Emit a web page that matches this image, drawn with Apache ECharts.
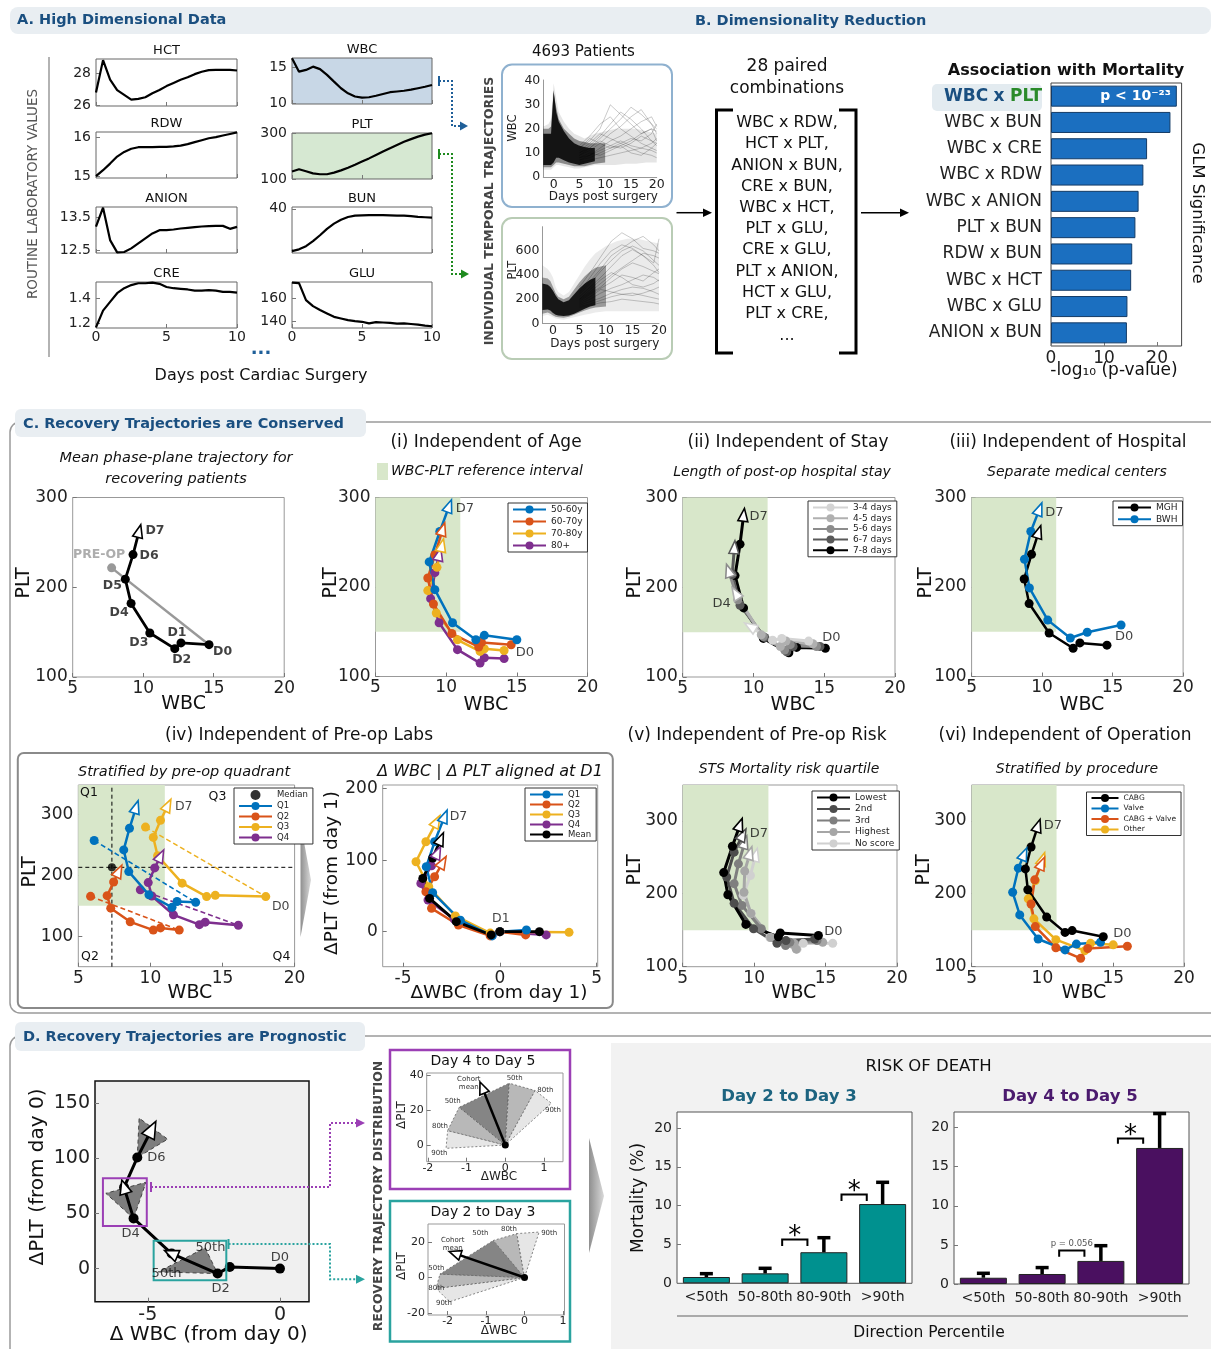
<!DOCTYPE html>
<html>
<head>
<meta charset="utf-8">
<title>Recovery trajectories</title>
<script src="https://cdn.jsdelivr.net/npm/echarts@6.0.0/dist/echarts.min.js"></script>
<style>
html,body{margin:0;padding:0;background:#ffffff;}
#chart{width:1211px;height:1349px;}
</style>
</head>
<body>
<div id="chart"></div>
<script>
// ======================= DATA =======================
// Panel A : mean routine lab values, days post surgery
const aDays = [0,0.5,1,1.5,2,2.5,3,3.5,4,4.5,5,5.5,6,6.5,7,7.5,8,8.5,9,9.5,10];
const hctMean = [26.8,28.83,27.6,26.95,26.65,26.35,26.4,26.5,26.75,26.95,27.2,27.4,27.6,27.75,27.95,28.1,28.2,28.22,28.22,28.22,28.18];
const rdwMean = [15.0,15.15,15.32,15.5,15.62,15.7,15.74,15.74,15.74,15.75,15.75,15.76,15.78,15.82,15.87,15.92,15.97,16.0,16.04,16.08,16.12];
const anionMean = [13.21,13.78,12.8,12.43,12.44,12.55,12.7,12.85,13.0,13.1,13.1,13.12,13.15,13.17,13.19,13.21,13.22,13.23,13.23,13.14,13.2];
const creMean = [1.165,1.30,1.37,1.44,1.48,1.505,1.52,1.52,1.525,1.515,1.49,1.48,1.475,1.47,1.46,1.46,1.465,1.46,1.45,1.45,1.445];
const wbcMean = [16.2,14.35,14.6,15.05,14.7,13.9,12.97,12.05,11.35,10.9,10.74,10.8,11.0,11.25,11.5,11.6,11.7,11.85,12.05,12.25,12.5];
const pltMean = [133,143,134,125,121,121,128,138,150,163,177,191,206,221,236,250,264,276,287,296,302];
const bunMean = [21.4,22.2,23.6,25.8,28.4,31.2,33.5,35.2,36.4,37.0,37.1,37.2,37.2,37.2,37.1,37.0,37.0,36.8,36.5,36.3,36.1];
const gluMean = [173.5,173,158.3,153,149.6,146.7,143.7,142.3,140.9,140,139.4,138,139.1,138.8,138.5,137.8,138,137.5,136.9,136,135.5];
const dayTicks = [0,5,10];
const hctTicks = [26,28], rdwTicks = [15,16], anionTicks = [12.5,13.5], creTicks = [1.2,1.4];
const wbcTicks = [10,15], pltTicks = [100,300], bunTicks = [20,40], gluTicks = [140,160];

// Panel B : individual trajectories (density envelopes + visible stray lines)
const spagDays = [-2,-1,-0.5,0,0.5,1,2,3,4,5,6,7,8,10,12,14,16,18,20];
const midDays  = [-2,-1,-0.5,0,0.5,1,2,3,4,5,6,7,8,10];
const coreDays = [-2,-1,-0.5,0,0.5,1,2,3,4,5,6,7,8];
const tailDays = [5,7,9,11,13,15,17,19,20];
const wbcOuterLo = [3,3,3,4,5,5,4.5,4,3.5,3.5,4,4.5,5,5,5,5.5,5.5,6,6];
const wbcOuterHi = [21,22,24,39,33,27,23,20,18,17,16,17,18,19,20,20,20,19,18];
const wbcMidLo = [4,4,4,5,6,6,5.5,5,4.5,4.5,4.5,5,5.5,6];
const wbcMidHi = [20,20,21,35,29,24,20,18,16,15,14.5,14,14,14];
const wbcCoreLo = [5,5,5,6,8,8,7,6,5.5,5,5.5,6,6.5];
const wbcCoreHi = [18,18,18,36,27,23,19,16,14,13,12.5,12,12];
const wbcTails = [
  [12,15,20,30,26,22,18,20,19],[10,13,17,22,27,24,20,15,14],[9,11,14,18,21,25,28,22,20],
  [8,9,12,15,17,20,23,25,21],[7,8,10,12,14,16,15,18,22],[9,12,15,13,12,14,17,15,13],
  [6,7,8,9,10,11,12,11,10],[11,14,18,16,14,12,10,9,8],[8,10,9,11,13,10,9,12,14],[13,17,22,25,20,17,14,12,11],
  [10,12,16,20,24,29,26,22,18],[7,9,11,13,15,13,12,14,16],[12,16,14,12,13,15,18,20,15]
];
const pltOuterLo = [60,70,60,50,40,35,30,40,50,60,70,80,90,100,100,100,100,100,100];
const pltOuterHi = [480,450,420,380,300,260,230,260,330,400,470,530,580,640,680,700,700,680,660];
const pltMidLo = [80,90,80,65,55,50,45,55,70,90,105,120,130,140];
const pltMidHi = [380,370,350,300,250,220,200,220,280,340,390,430,460,480];
const pltCoreLo = [110,115,105,85,70,65,60,65,80,100,120,140,150];
const pltCoreHi = [330,320,300,270,230,200,175,190,240,290,330,360,380];
const pltTails = [
  [300,420,550,680,750,700,620,600,580],[250,350,450,560,620,680,720,650,600],[220,300,380,470,560,610,560,500,700],
  [200,260,330,400,460,520,580,560,540],[180,240,290,340,400,380,350,420,450],[160,200,250,290,320,360,400,380,350],
  [150,180,210,250,280,300,290,260,240],[140,160,190,220,240,250,230,210,200],[170,220,280,260,240,230,250,280,300],
  [200,280,360,420,380,320,300,330,360],[240,330,430,520,600,640,600,520,480],[190,250,300,380,450,500,470,430,410],
  [130,150,170,180,200,190,180,170,160],[260,380,500,600,650,620,560,480,420]
];
const spagDayTicks = [0,5,10,15,20], spagWbcTicks = [0,10,20,30,40], spagPltTicks = [0,200,400,600];
const pairedCombos = ['WBC x RDW,','HCT x PLT,','ANION x BUN,','CRE x BUN,','WBC x HCT,','PLT x GLU,','CRE x GLU,','PLT x ANION,','HCT x GLU,','PLT x CRE,'];
const glmPairs = ['WBC x PLT','WBC x BUN','WBC x CRE','WBC x RDW','WBC x ANION','PLT x BUN','RDW x BUN','WBC x HCT','WBC x GLU','ANION x BUN'];
const glmSig = [23.7,22.5,18.1,17.4,16.5,15.9,15.3,15.1,14.4,14.3];
const glmTicks = [0,10,20];

// Panel C : phase-plane trajectories [WBC, PLT], D0..D7
const wbcAxisTicks = [5,10,15,20], pltAxisTicks = [100,200,300];
const refWBC = [4.5,11.0], refPLT = [150,450];
const meanTraj = [[14.67,136],[12.68,138],[12.24,131.6],[10.47,149],[9.14,182],[8.73,209],[9.28,236.4],[9.7,262]];
const preOpMean = [7.76,221.6];
const age5060 = [[15.0,141],[12.7,146],[12.1,141],[10.45,160],[9.2,197],[8.8,228],[9.55,262],[10.2,290]];
const age6070 = [[14.6,135.5],[12.5,138],[12.3,133],[10.4,148],[9.1,181],[8.7,210],[9.2,236],[9.75,264]];
const age7080 = [[14.1,129],[12.7,131],[12.4,128],[10.8,141],[9.3,171],[8.7,196],[9.35,222],[9.7,246]];
const age80 = [[14.1,120],[12.7,121],[12.4,115],[10.8,130],[9.5,160],[8.9,187],[9.2,216],[9.5,236]];
const stay78 = [[15.08,132],[13.05,133],[12.5,127],[10.7,143],[9.3,177],[8.7,213],[9.05,248],[9.3,280]];
const stay67 = [[14.7,134],[12.8,134],[12.35,128],[10.8,144],[9.05,180],[8.5,214],[8.65,244]];
const stay56 = [[14.45,134],[12.6,136],[12.2,130],[10.7,145],[8.9,186],[8.25,218]];
const stay45 = [[14.2,137],[12.3,140],[11.9,134],[10.55,147],[8.75,193]];
const stay34 = [[13.9,140],[12.0,143],[11.35,141],[9.8,156]];
const mgh = [[14.6,135],[12.68,137.5],[12.2,131.6],[10.5,148.6],[9.08,181.5],[8.73,209],[9.25,236.5],[9.75,261]];
const bwh = [[15.6,157.5],[13.2,149.5],[12.0,143],[10.4,163],[9.1,199],[8.75,231],[9.2,262],[9.8,286.5]];
const quadQ1 = [[13.14,155.6],[11.85,157],[11.5,147.4],[9.9,168],[8.5,206],[8.15,241.5],[8.55,277],[9.0,311]];
const quadQ2 = [[12.0,110],[10.7,113.6],[10.2,110],[8.6,123.6],[7.25,146],[7.0,166.5],[7.45,189],[7.8,206]];
const quadQ3 = [[18.0,165],[14.5,167],[13.9,165],[12.2,187],[10.5,232],[10.2,262],[10.7,290],[11.2,314]];
const quadQ4 = [[16.1,118],[13.8,123],[13.4,119],[11.6,135],[10.1,166],[9.85,188],[10.3,212],[10.7,231]];
const preQ1 = [6.1,257], preQ2 = [5.85,165.4], preQ3 = [9.66,279], preQ4 = [9.3,176];
const preMedian = [7.33,213];
const quadPltTicks = [100,200,300];
const alignQ1 = [[1.37,2.3],[0,0],[-0.4,-6],[-2.04,16],[-3.47,54.4],[-3.8,90.7],[-3.37,125.6],[-2.86,160.5]];
const alignQ2 = [[1.33,-4.6],[0,0],[-0.5,-6],[-2.14,9.3],[-3.53,32.6],[-3.82,55.8],[-3.37,76.7],[-2.96,96.3]];
const alignQ3 = [[3.57,-1],[0,0],[-0.5,-2],[-2.3,21.9],[-3.67,62.8],[-4.33,97.7],[-3.82,125.6],[-3.27,153.5]];
const alignQ4 = [[2.39,-4.6],[0,0],[-0.4,-5],[-2.35,17.2],[-3.71,44.2],[-4.08,67.4],[-3.53,92],[-3.22,110]];
const alignMean = [[2.04,0],[0,0],[-0.45,-4.6],[-2.25,14],[-3.63,46.5],[-3.98,74.4],[-3.47,103],[-3.06,129]];
const dWbcTicks1 = [-5,0,5], dPltTicks1 = [0,100,200];
const riskLow = [[14.5,142.7],[11.83,146.3],[11.7,141],[9.42,158],[8.16,198.6],[7.87,229],[8.48,265],[9.0,294]];
const risk2nd = [[14.24,138],[12.23,135.8],[11.6,132],[9.96,152],[8.6,187],[8.08,223],[8.6,257],[9.2,280]];
const risk3rd = [[14.4,135.8],[12.5,133.5],[12.2,129],[10.5,152],[9.15,184],[8.6,213.8],[8.9,241],[9.34,270]];
const riskHigh = [[14.8,133.5],[12.8,132],[12.95,124],[11.16,140],[9.77,173],[9.29,202],[9.34,231],[9.7,255]];
const riskNone = [[15.5,132],[13.44,132],[13.0,124],[11.1,140],[9.8,173],[9.23,198],[9.74,225],[10.1,252.7]];
const opCabg = [[14.3,141],[12.1,149.5],[11.6,147],[10.3,168],[8.97,205.5],[8.8,234],[9.2,264],[9.68,292.7]];
const opValve = [[14.1,133.5],[12.4,131],[11.6,123],[9.7,138],[8.4,171],[7.9,202],[8.3,235],[8.7,253.7]];
const opCabgValve = [[16.0,128],[13.2,125],[12.7,111.5],[10.95,126],[9.5,155],[9.2,186],[9.46,219],[9.95,241]];
const opOther = [[15.0,130],[13.4,132],[13.0,122],[10.95,137],[9.4,165.6],[9.0,193],[9.5,218],[10.0,247]];

// Panel D : change from day 0 [dWBC, dPLT]
const dTraj = [[0,0],[-1.9,1.5],[-2.36,-4.5],[-4.1,13.6],[-5.54,45.5],[-5.9,73.6],[-5.4,100.6],[-4.86,125.8]];
const wedgeD6 = [[-5.4,100.6],[-5.33,136.4],[-4.25,117.3]];
const wedgeD4 = [[-5.54,45.5],[-6.59,68.2],[-5.07,78.2]];
const wedgeD2 = [[-2.36,-4.5],[-4.61,-3],[-2.83,18.8]];
const boxDay45 = [[-6.7,38.5],[-5.04,38.5],[-5.04,81.8],[-6.7,81.8]];
const boxDay23 = [[-4.78,-10.6],[-2.03,-10.6],[-2.03,25.2],[-4.78,25.2]];
const dWbcTicks0 = [-5,0], dPltTicks0 = [0,50,100,150];
const insetOrigin = [0,0];
const fan45 = [[-1.53,-1.9],[-1.49,8.2],[-1.19,21.5],[0.1,35.2],[0.77,31],[1.19,23.8]];
const fan23 = [[-1.95,-13.6],[-2.3,-6.1],[-2.2,1.9],[-0.81,20.8],[-0.2,24.6],[0.38,25.5]];
const mean45 = [-0.59,32.4], mean23 = [-1.8,13.4];
const insetXTicks = [-2,-1,0,1], inset45Ticks = [0,20,40], inset23Ticks = [-20,0,20];
const mortCats = ['<50th','50-80th','80-90th','>90th'];
const mort23 = [0.81,1.28,4.0,10.2], err23 = [1.24,1.93,5.87,13.0];
const mort45 = [0.8,1.28,2.95,17.4], err45 = [1.37,2.1,4.9,21.8];
const mortTicks = [0,5,10,15,20];

// ======================= BUILD =======================
const FONT = '"DejaVu Sans", Verdana, Arial, sans-serif';
const BLUE='#0072BD', ORANGE='#D95319', YELLOW='#EDB120', PURPLE='#7E2F8E', SHADE='#d8e7ca';
const grids=[], xAxes=[], yAxes=[], series=[], graphics=[], legends=[];
const fnt = (size,o={}) => (o.italic?'italic ':'') + (o.bold?'bold ':'') + size + 'px ' + FONT;
const fmt = v => String(Math.round(v*1000)/1000);

function vAxis(gi, r, ticks, o={}) {
  return {type:'value', gridIndex:gi, min:r[0], max:r[1],
    axisLine:{show:!!o.line, onZero:false, lineStyle:{color:o.lineColor||'#999', width:1}},
    axisTick:{show:o.tick!==false && ticks.length>0, inside:true, length:4, customValues:ticks, lineStyle:{color:'#777', width:1}},
    axisLabel:{show:o.label!==false, customValues:ticks, fontSize:o.fs||14, fontFamily:FONT, color:o.color||'#222', margin:o.margin!=null?o.margin:4, hideOverlap:false, formatter:fmt},
    splitLine:{show:false}, splitArea:{show:false}};
}
function addGrid(box, xr, yr, o={}) {
  const gi = grids.length;
  grids.push({left:box[0], top:box[1], width:box[2], height:box[3], show:o.show!==false, borderColor:o.border||'#8c8c8c',
    borderWidth:o.bw!=null?o.bw:1, backgroundColor:o.bg||'rgba(0,0,0,0)', containLabel:false, outerBoundsMode:'none'});
  xAxes.push(vAxis(gi, xr, o.xt||[], Object.assign({fs:o.fs, margin:o.xm!=null?o.xm:3}, o.xo||{})));
  yAxes.push(vAxis(gi, yr, o.yt||[], Object.assign({fs:o.fs, margin:o.ym!=null?o.ym:5}, o.yo||{})));
  return gi;
}
function lineS(gi, data, color, o={}) {
  series.push({type:'line', xAxisIndex:gi, yAxisIndex:gi, data, symbol:'none', showSymbol:false,
    lineStyle:{color, width:o.lw||2, type:o.dash||'solid'}, itemStyle:{color}, silent:true, animation:false, z:o.z||3});
}
function arrowS(gi, p0, p1, color, o={}) {
  return {type:'custom', xAxisIndex:gi, yAxisIndex:gi, silent:true, animation:false, z:o.az||5,
    data:[[p0[0],p0[1],p1[0],p1[1]]],
    renderItem:(params, api) => {
      const a = api.coord([api.value(0), api.value(1)]), b = api.coord([api.value(2), api.value(3)]);
      let dx=b[0]-a[0], dy=b[1]-a[1]; const L=Math.hypot(dx,dy)||1; dx/=L; dy/=L;
      const len=o.alen||13, w=o.aw||10;
      const tip=[b[0]+dx*len*0.55, b[1]+dy*len*0.55], bc=[b[0]-dx*len*0.45, b[1]-dy*len*0.45];
      return {type:'polygon', shape:{points:[tip,[bc[0]-dy*w/2, bc[1]+dx*w/2],[bc[0]+dy*w/2, bc[1]-dx*w/2]]},
        style:{fill:'#fff', stroke:color, lineWidth:o.alw||1.6}};
    }};
}
function traj(gi, pts, color, name, o={}) {
  const n = pts.length;
  const data = pts.map((p,i) => i===n-1 ? {value:p, symbol:'none'} : {value:p});
  series.push({type:'line', name, xAxisIndex:gi, yAxisIndex:gi, data, symbol:'circle', symbolSize:o.ss||9, showSymbol:true, showAllSymbol:true,
    lineStyle:{color, width:o.lw||2.5}, itemStyle:{color, borderWidth:0}, silent:true, animation:false, z:o.z||3});
  series.push(arrowS(gi, pts[n-2], pts[n-1], color, o));
}
function preLine(gi, pre, d0, color) {
  series.push({type:'line', xAxisIndex:gi, yAxisIndex:gi, data:[{value:pre},{value:d0, symbol:'none'}], symbol:'circle', symbolSize:9, showSymbol:true,
    lineStyle:{color, width:1.6, type:[5,3]}, itemStyle:{color}, silent:true, animation:false, z:2});
}
function polyS(gi, pts, style, z) {
  series.push({type:'custom', xAxisIndex:gi, yAxisIndex:gi, silent:true, animation:false, z:z||2, data:[pts[0]],
    renderItem:(params, api) => ({type:'polygon', shape:{points:pts.map(p=>api.coord(p))}, style:Object.assign({}, style)})});
}
const band = (days, lo, hi) => days.map((d,i)=>[d,lo[i]]).concat(days.map((d,i)=>[d,hi[i]]).reverse());
function shadeS(gi, xmin, ymax) {
  polyS(gi, [[xmin,refPLT[0]],[refWBC[1],refPLT[0]],[refWBC[1],Math.min(ymax,refPLT[1])],[xmin,Math.min(ymax,refPLT[1])]], {fill:SHADE}, 1);
}
function labelS(gi, items, o={}) {
  series.push({type:'scatter', xAxisIndex:gi, yAxisIndex:gi, silent:true, animation:false, z:8, symbolSize:1, itemStyle:{color:'rgba(0,0,0,0)'},
    data: items.map(it => ({value:it[0], label:{show:true, position:'inside', formatter:it[1], offset:it[2], fontSize:o.fs||13,
      fontFamily:FONT, fontWeight:o.bold?'bold':'normal', color:it[3]||o.color||'#111'}}))});
}
function legend(left, top, names, o={}) {
  legends.push({orient:'vertical', left, top, data:names, selectedMode:false, itemWidth:o.iw||33, itemHeight:o.ih||10,
    itemGap:o.gap!=null?o.gap:3, padding:o.pad||[2,5,2,4], borderColor:'#333', borderWidth:1, backgroundColor:'#fff', borderRadius:0,
    textStyle:{fontSize:o.fs||9, fontFamily:FONT, color:'#222'}, z:20});
}
function T(x,y,text,o={}) {
  graphics.push({type:'text', x, y, rotation:o.rot||0, z:o.z||30, silent:true,
    style:{text, font:fnt(o.size||14,o), fill:o.color||'#222', textAlign:o.align||'center', textVerticalAlign:o.va||'middle',
      align:o.align||'center', verticalAlign:o.va||'middle'}});
}
function R(x,y,w,h,o={}) {
  graphics.push({type:'rect', z:o.z!=null?o.z:-5, silent:true, shape:{x,y,width:w,height:h,r:o.r||0},
    style:{fill:o.fill||'none', stroke:o.stroke||'none', lineWidth:o.lw||1}});
}
function PL(points,o={}) {
  graphics.push({type:'polyline', z:o.z||20, silent:true, shape:{points}, style:{stroke:o.color||'#000', lineWidth:o.lw||1.5, lineDash:o.dash||null, fill:'none'}});
}
function PG(points,o={}) {
  graphics.push({type:'polygon', z:o.z||20, silent:true, shape:{points}, style:{fill:o.fill||'#000', stroke:o.stroke||'none', lineWidth:o.lw||1}});
}

// ---------- Headers & frames ----------
R(10,7,1201,27,{fill:'#e9eef2', r:8, z:-5});
T(17,20.5,'A. High Dimensional Data',{size:14.5,bold:true,color:'#1a4f80',align:'left'});
T(695,21,'B. Dimensionality Reduction',{size:14.5,bold:true,color:'#1a4f80',align:'left'});
R(10,422,1215,591,{stroke:'#9a9a9a', lw:1.5, r:10, z:-4});
R(15,409,351,28,{fill:'#e9eef2', r:6, z:-3});
T(23,424,'C. Recovery Trajectories are Conserved',{size:14.5,bold:true,color:'#1a4f80',align:'left'});
R(10,1036,1215,330,{stroke:'#9a9a9a', lw:1.5, r:10, z:-4});
R(611,1043,600,306,{fill:'#f2f2f2', z:-6});
R(15,1022,350,29,{fill:'#e9eef2', r:6, z:-3});
T(23,1037,'D. Recovery Trajectories are Prognostic',{size:14.5,bold:true,color:'#1a4f80',align:'left'});

// ---------- Panel A ----------
const aSpecs = [
  ['HCT',[96,59,141,47],[25.95,28.9],hctTicks,hctMean,false,null],
  ['RDW',[96,132,141,46],[14.95,16.13],rdwTicks,rdwMean,false,null],
  ['ANION',[96,207,141,46],[12.41,13.8],anionTicks,anionMean,false,null],
  ['CRE',[96,282,141,46],[1.16,1.53],creTicks,creMean,true,null],
  ['WBC',[292,58,140,46],[9.86,16.25],wbcTicks,wbcMean,false,'#c8d7e6'],
  ['PLT',[292,133,140,46],[100,303],pltTicks,pltMean,false,'#d6e8d2'],
  ['BUN',[292,207,140,46],[20.6,40.8],bunTicks,bunMean,false,null],
  ['GLU',[292,282,140,46],[134,174],gluTicks,gluMean,true,null]
];
aSpecs.forEach(s => {
  const gi = addGrid(s[1],[0,10],s[2],{xt:dayTicks, yt:s[3], fs:14, border:'#666', bg:s[6]||'rgba(0,0,0,0)', xm:2, ym:5, xo:{label:s[5]}});
  lineS(gi, aDays.map((d,i)=>[d,s[4][i]]), '#000', {lw:2.2});
  T(s[1][0]+s[1][2]/2, s[1][1]-8.5, s[0], {size:13, color:'#111'});
});
PL([[49,57],[49,357]],{color:'#9a9a9a',lw:1.5});
T(33,194,'ROUTINE LABORATORY VALUES',{size:13.5,color:'#555',rot:Math.PI/2});
T(261,349,'...',{size:18,bold:true,color:'#1f5f99'});
T(261,375.7,'Days post Cardiac Surgery',{size:16,color:'#111'});
PL([[439,76],[439,86]],{color:'#1f5f99',lw:2});
PL([[439,81],[452,81],[452,126],[460,126]],{color:'#1f5f99',lw:2,dash:[2,2]});
PG([[468,126],[460,121.5],[460,130.5]],{fill:'#1f5f99'});
PL([[439,149],[439,159]],{color:'#1e8a1e',lw:2});
PL([[439,154],[452,154],[452,274],[461,274]],{color:'#1e8a1e',lw:2,dash:[2,2]});
PG([[469,274],[461,269.5],[461,278.5]],{fill:'#1e8a1e'});

// ---------- Panel B ----------
T(490,211,'INDIVIDUAL TEMPORAL TRAJECTORIES',{size:12.5,bold:true,color:'#444',rot:Math.PI/2});
T(583.4,51.7,'4693 Patients',{size:15,color:'#111'});
R(502,64.5,170,142.5,{stroke:'#8fb1cf', lw:2, r:10, z:1});
R(502,218,170,141,{stroke:'#b9ccb5', lw:2, r:10, z:1});
const gW = addGrid([543.3,80,113.4,97],[-2,20],[0,40.3],{show:false, xt:spagDayTicks, yt:spagWbcTicks, fs:12.5, xm:1, ym:3,
  xo:{line:true, tick:false}, yo:{line:true, tick:false}});
polyS(gW, band(spagDays, wbcOuterLo, wbcOuterHi), {fill:'rgba(0,0,0,0.1)'}, 2);
wbcTails.forEach(t => lineS(gW, tailDays.map((d,i)=>[d,t[i]]), 'rgba(0,0,0,0.3)', {lw:0.7}));
polyS(gW, band(midDays, wbcMidLo, wbcMidHi), {fill:'rgba(0,0,0,0.4)'}, 4);
polyS(gW, band(coreDays, wbcCoreLo, wbcCoreHi), {fill:'rgba(0,0,0,0.85)'}, 4);
T(513.3,128,'WBC',{size:11.5,rot:Math.PI/2});
T(603.4,197,'Days post surgery',{size:12});
const gPs = addGrid([542.4,226.7,116.6,96.6],[-2,20],[0,800],{show:false, xt:spagDayTicks, yt:spagPltTicks, fs:12.5, xm:1, ym:3,
  xo:{line:true, tick:false}, yo:{line:true, tick:false}});
polyS(gPs, band(spagDays, pltOuterLo, pltOuterHi), {fill:'rgba(0,0,0,0.08)'}, 2);
pltTails.forEach(t => lineS(gPs, tailDays.map((d,i)=>[d,t[i]]), 'rgba(0,0,0,0.3)', {lw:0.7}));
polyS(gPs, band(midDays, pltMidLo, pltMidHi), {fill:'rgba(0,0,0,0.35)'}, 4);
polyS(gPs, band(coreDays, pltCoreLo, pltCoreHi), {fill:'rgba(0,0,0,0.85)'}, 4);
T(513.3,270,'PLT',{size:11.5,rot:Math.PI/2});
T(604.8,344,'Days post surgery',{size:12});
PL([[676.5,212.7],[704,212.7]],{lw:1.5}); PG([[712,212.7],[703,208.5],[703,217]]);
PL([[861,212.7],[900,212.7]],{lw:1.5}); PG([[909,212.7],[900,208.5],[900,217]]);
T(787,67,'28 paired',{size:17,color:'#111'});
T(787,88.5,'combinations',{size:17,color:'#111'});
pairedCombos.forEach((c,i) => T(787,123+i*21.2,c,{size:16,color:'#111'}));
T(787,336,'...',{size:16,color:'#111'});
PL([[733,110],[716.5,110],[716.5,353],[733,353]],{lw:3});
PL([[839,110],[856,110],[856,353],[839,353]],{lw:3});
T(1066,70.7,'Association with Mortality',{size:16,bold:true,color:'#111'});
R(932,84,110,27,{fill:'#e3ebf0', r:5, z:-1});
const gB = grids.length;
grids.push({left:1051, top:83, width:130.6, height:263, show:true, borderColor:'#444', borderWidth:1, backgroundColor:'#fff', containLabel:false, outerBoundsMode:'none'});
xAxes.push(vAxis(gB,[0,24.6],glmTicks,{fs:17, margin:4}));
yAxes.push({type:'category', gridIndex:gB, data:glmPairs, inverse:true, axisLine:{show:false}, axisTick:{show:false}, splitLine:{show:false},
  axisLabel:{fontSize:17, fontFamily:FONT, color:'#222', margin:9, interval:0,
    formatter:(v,i) => i===0 ? '{w|WBC} {w|x} {p|PLT}' : v,
    rich:{w:{color:'#1a4f80', fontWeight:'bold', fontSize:17, fontFamily:FONT}, p:{color:'#2a8a2a', fontWeight:'bold', fontSize:17, fontFamily:FONT}}}});
series.push({type:'bar', xAxisIndex:gB, yAxisIndex:gB, silent:true, animation:false, barCategoryGap:'20%',
  itemStyle:{color:'#1b6fc0', borderColor:'#143b66', borderWidth:1},
  data: glmSig.map((v,i) => i===0 ? {value:v, label:{show:true, position:'insideRight', formatter:'p < 10⁻²³', color:'#fff', fontWeight:'bold', fontSize:14, fontFamily:FONT, distance:6}} : v)});
T(1197,213,'GLM Significance',{size:16.5,rot:-Math.PI/2,color:'#111'});
T(1114,371,'-log₁₀ (p-value)',{size:17,color:'#111'});

// ---------- Panel C ----------
function cGrid(box, xr, yr, xt, yt, extra={}) {
  return addGrid(box, xr, yr, Object.assign({xt, yt, fs:17, xm:3, ym:5, border:'#999'}, extra));
}
function axNames(px, py, wx, wy, yname, xname, size) {
  T(px, py, yname, {size:size||19, rot:Math.PI/2, color:'#111'});
  T(wx, wy, xname, {size:size||19, color:'#111'});
}
// mean trajectory
T(176,458,'Mean phase-plane trajectory for',{size:14.5,italic:true,color:'#111'});
T(176,479,'recovering patients',{size:14.5,italic:true,color:'#111'});
const gS1 = cGrid([72.7,497.5,211.5,179.5],[5,20],[100,300],wbcAxisTicks,pltAxisTicks);
series.push({type:'line', xAxisIndex:gS1, yAxisIndex:gS1, data:[{value:preOpMean},{value:meanTraj[0], symbol:'none'}], symbol:'circle', symbolSize:9,
  lineStyle:{color:'#999', width:2.5}, itemStyle:{color:'#999'}, silent:true, animation:false, z:2});
traj(gS1, meanTraj, '#000', 'Mean trajectory', {lw:2.8});
labelS(gS1, [[meanTraj[7],'D7',[16,-1]],[meanTraj[6],'D6',[16,1]],[meanTraj[5],'D5',[-13,7]],[meanTraj[4],'D4',[-12,9]],
  [meanTraj[3],'D3',[-11,10]],[meanTraj[1],'D1',[-4,-10]],[meanTraj[2],'D2',[7,11]],[meanTraj[0],'D0',[13.5,7]],
  [preOpMean,'PRE-OP',[-12.5,-13.5],'#999']], {bold:true, fs:12.5});
axNames(24,583,183.6,704,'PLT','WBC');
// (i) age
T(486,443,'(i) Independent of Age',{size:17,color:'#111'});
R(377,463,11,17,{fill:SHADE, z:1});
T(391,471,'WBC-PLT reference interval',{size:14,italic:true,color:'#111',align:'left'});
const gI = cGrid([375.5,497.5,212,179],[5,20],[100,300],wbcAxisTicks,pltAxisTicks);
shadeS(gI, 5, 300);
traj(gI, age80, PURPLE, '80+'); traj(gI, age7080, YELLOW, '70-80y'); traj(gI, age6070, ORANGE, '60-70y'); traj(gI, age5060, BLUE, '50-60y');
labelS(gI, [[age5060[7],'D7',[16,2]],[age5060[0],'D0',[8,12.5]]]);
legend(508,503,['50-60y','60-70y','70-80y','80+'],{gap:3});
axNames(330.7,583,486,705,'PLT','WBC');
// (ii) stay
T(788,443,'(ii) Independent of Stay',{size:17,color:'#111'});
T(782,472,'Length of post-op hospital stay',{size:14,italic:true,color:'#111'});
const gII = cGrid([682.7,497.5,212.3,179.5],[5,20],[100,300],wbcAxisTicks,pltAxisTicks);
shadeS(gII, 5, 300);
traj(gII, stay78, '#000', '7-8 days', {lw:3});
traj(gII, stay67, '#595959', '6-7 days', {lw:3});
traj(gII, stay56, '#8c8c8c', '5-6 days', {lw:3});
traj(gII, stay45, '#b0b0b0', '4-5 days', {lw:3});
traj(gII, stay34, '#d4d4d4', '3-4 days', {lw:3});
labelS(gII, [[stay78[7],'D7',[15,1]],[stay78[4],'D4',[-22,-4]],[stay78[0],'D0',[6,-11]]]);
legend(808,501,['3-4 days','4-5 days','5-6 days','6-7 days','7-8 days'],{iw:35, gap:1.7});
axNames(635,583,793,705,'PLT','WBC');
// (iii) hospital
T(1068,443,'(iii) Independent of Hospital',{size:17,color:'#111'});
T(1077,472,'Separate medical centers',{size:14,italic:true,color:'#111'});
const gIII = cGrid([971.6,497.5,211.5,179],[5,20],[100,300],wbcAxisTicks,pltAxisTicks);
shadeS(gIII, 5, 300);
traj(gIII, mgh, '#000', 'MGH'); traj(gIII, bwh, BLUE, 'BWH');
labelS(gIII, [[bwh[7],'D7',[15,3]],[bwh[0],'D0',[3,12]]]);
legend(1113,501,['MGH','BWH'],{gap:2.7});
axNames(925.7,583,1082,705,'PLT','WBC');
// (iv) pre-op labs
T(299,736,'(iv) Independent of Pre-op Labs',{size:17,color:'#111'});
R(17.8,753,595,255,{stroke:'#8a8a8a', lw:2, r:6, z:-4});
T(184,772,'Stratified by pre-op quadrant',{size:14.5,italic:true,color:'#111'});
const gQ = cGrid([78.3,785,216.3,181.7],[5,20],[50,348],wbcAxisTicks,quadPltTicks);
shadeS(gQ, 5, 348);
lineS(gQ, [[preMedian[0],50],[preMedian[0],348]], '#000', {lw:1, dash:[4,3], z:2});
lineS(gQ, [[5,preMedian[1]],[20,preMedian[1]]], '#000', {lw:1, dash:[4,3], z:2});
preLine(gQ, preQ1, quadQ1[0], BLUE); preLine(gQ, preQ2, quadQ2[0], ORANGE); preLine(gQ, preQ3, quadQ3[0], YELLOW); preLine(gQ, preQ4, quadQ4[0], PURPLE);
traj(gQ, quadQ4, PURPLE, 'Q4'); traj(gQ, quadQ3, YELLOW, 'Q3'); traj(gQ, quadQ2, ORANGE, 'Q2'); traj(gQ, quadQ1, BLUE, 'Q1');
series.push({type:'scatter', name:'Median', xAxisIndex:gQ, yAxisIndex:gQ, data:[preMedian], symbol:'circle', symbolSize:8, itemStyle:{color:'#000'}, silent:true, animation:false, z:6});
labelS(gQ, [[quadQ3[7],'D7',[16,1]],[quadQ3[0],'D0',[15,10]]], {fs:12.5});
T(89,793,'Q1',{size:12.5,color:'#111'}); T(217.5,797,'Q3',{size:12.5,color:'#111'});
T(90,957,'Q2',{size:12.5,color:'#111'}); T(281.5,957,'Q4',{size:12.5,color:'#111'});
legend(234,788,['Median','Q1','Q2','Q3','Q4'],{fs:8.5, gap:1.5});
axNames(29.7,872,190,993,'PLT','WBC');
PG([[300.5,823],[311,880],[300.5,937]],{fill:new echarts.graphic.LinearGradient(0,0,1,0,[{offset:0,color:'#8f8f8f'},{offset:1,color:'#d9d9d9'}]), z:5});
T(490,772,'Δ WBC | Δ PLT aligned at D1',{size:16,italic:true,color:'#111'});
const gQA = cGrid([382.7,785,215,181.7],[-6.05,5.05],[-49,205],dWbcTicks1,dPltTicks1);
traj(gQA, alignQ4, PURPLE, 'Q4'); traj(gQA, alignQ3, YELLOW, 'Q3'); traj(gQA, alignQ2, ORANGE, 'Q2'); traj(gQA, alignQ1, BLUE, 'Q1');
traj(gQA, alignMean, '#000', 'Mean', {lw:2.8});
labelS(gQA, [[alignQ1[7],'D7',[14,0]],[alignMean[1],'D1',[1,-13]]], {fs:12.5});
legend(525,788,['Q1','Q2','Q3','Q4','Mean'],{fs:8.5, gap:1});
axNames(332,873,499,993,'ΔPLT (from day 1)','ΔWBC (from day 1)',18.5);
// (v) risk
T(757,736,'(v) Independent of Pre-op Risk',{size:17,color:'#111'});
T(789,769,'STS Mortality risk quartile',{size:14,italic:true,color:'#111'});
const gV = cGrid([682.7,785,214.3,181.7],[5,20],[100,349],wbcAxisTicks,pltAxisTicks);
shadeS(gV, 5, 349);
traj(gV, riskNone, '#d0d0d0', 'No score', {lw:3}); traj(gV, riskHigh, '#a6a6a6', 'Highest', {lw:3});
traj(gV, risk3rd, '#7f7f7f', '3rd', {lw:3}); traj(gV, risk2nd, '#4d4d4d', '2nd', {lw:3}); traj(gV, riskLow, '#000', 'Lowest', {lw:3});
labelS(gV, [[riskLow[7],'D7',[19,8]],[riskLow[0],'D0',[15,-4]]]);
legend(812,791,['Lowest','2nd','3rd','Highest','No score'],{iw:33, gap:2.5});
axNames(635,870,794,993,'PLT','WBC');
// (vi) operation
T(1065,736,'(vi) Independent of Operation',{size:17,color:'#111'});
T(1077,769,'Stratified by procedure',{size:14,italic:true,color:'#111'});
const gVI = cGrid([971.6,785,212.4,181.7],[5,20],[100,349],wbcAxisTicks,pltAxisTicks);
shadeS(gVI, 5, 349);
traj(gVI, opOther, YELLOW, 'Other'); traj(gVI, opCabgValve, ORANGE, 'CABG + Valve'); traj(gVI, opValve, BLUE, 'Valve'); traj(gVI, opCabg, '#000', 'CABG');
labelS(gVI, [[opCabg[7],'D7',[15,0]],[opCabg[0],'D0',[19,-3]]]);
legend(1086.5,792,['CABG','Valve','CABG + Valve','Other'],{iw:27, fs:7.5, gap:2.5});
axNames(924,870,1084,993,'PLT','WBC');

// ---------- Panel D ----------
const gD = addGrid([95,1081,214,220.7],[-7,1.1],[-30,170],{xt:dWbcTicks0, yt:dPltTicks0, fs:19, xm:4, ym:5, border:'#111', bw:1.5, bg:'#f0f0f0'});
const wedgeStyle = {fill:'#7d7d7d', stroke:'#444', lineWidth:1, lineDash:[4,3]};
polyS(gD, wedgeD6, wedgeStyle, 2); polyS(gD, wedgeD4, wedgeStyle, 2); polyS(gD, wedgeD2, wedgeStyle, 2);
traj(gD, dTraj, '#000', 'Cohort trajectory', {ss:10, lw:3, alen:17, aw:14});
series.push(arrowS(gD, dTraj[2], dTraj[3], '#000', {alen:14, aw:12}));
series.push(arrowS(gD, dTraj[4], dTraj[5], '#000', {alen:14, aw:12}));
polyS(gD, boxDay45, {fill:'none', stroke:'#9b3fb5', lineWidth:2}, 7);
polyS(gD, boxDay23, {fill:'none', stroke:'#2aa39f', lineWidth:2}, 7);
labelS(gD, [[dTraj[0],'D0',[0,-11]],[dTraj[2],'D2',[3,15]],[dTraj[4],'D4',[-3,15]],[dTraj[6],'D6',[19,0]],
  [wedgeD2[1],'50th',[8.4,1.4]],[wedgeD2[2],'50th',[5.3,0]]], {fs:13});
axNames(38,1177,208.6,1335,'ΔPLT (from day 0)','Δ WBC (from day 0)',20);
PL([[151,1182],[151,1192]],{color:'#9b3fb5',lw:2});
PL([[151,1187],[330,1187],[330,1123],[356,1123]],{color:'#9b3fb5',lw:2,dash:[2,2]});
PG([[365,1123],[356,1118.5],[356,1127.5]],{fill:'#9b3fb5'});
PL([[228.5,1239],[228.5,1249]],{color:'#2aa39f',lw:2});
PL([[228.5,1244],[330,1244],[330,1279.3],[356,1279.3]],{color:'#2aa39f',lw:2,dash:[2,2]});
PG([[365,1279.3],[356,1274.8],[356,1283.8]],{fill:'#2aa39f'});
T(379,1196,'RECOVERY TRAJECTORY DISTRIBUTION',{size:12.5,bold:true,color:'#444',rot:Math.PI/2});
// insets
R(390,1050,180,139,{stroke:'#9b3fb5', lw:2.5, z:1});
R(390,1201,180,140.5,{stroke:'#2aa39f', lw:2.5, z:1});
T(483,1061,'Day 4 to Day 5',{size:14,color:'#111'});
T(483,1212,'Day 2 to Day 3',{size:14,color:'#111'});
function fan(gi, rays) {
  const cols=['#e6e6e6','#b8b8b8','#858585','#b8b8b8','#e6e6e6'];
  for (let k=0;k<5;k++) polyS(gi,[insetOrigin,rays[k],rays[k+1]],{fill:cols[k],stroke:'#555',lineWidth:0.7,lineDash:[2,2]},2);
}
const gP = addGrid([426.7,1073,136.3,88.7],[-2.03,1.49],[-9.5,41],{xt:insetXTicks, yt:inset45Ticks, fs:11, xm:1, ym:3, border:'#999', bg:'#fff'});
fan(gP, fan45);
traj(gP, [insetOrigin, mean45], '#000', 'Cohort mean 4-5', {ss:7, lw:2.5, alen:12, aw:10});
const gT = addGrid([428,1224,136.5,91],[-2.51,1.04],[-21,30],{xt:insetXTicks, yt:inset23Ticks, fs:11, xm:1, ym:3, border:'#999', bg:'#fff'});
fan(gT, fan23);
traj(gT, [insetOrigin, mean23], '#000', 'Cohort mean 2-3', {ss:7, lw:2.5, alen:12, aw:10});
T(402,1115,'ΔPLT',{size:12,rot:Math.PI/2}); T(499,1177,'ΔWBC',{size:12});
T(402,1266,'ΔPLT',{size:12,rot:Math.PI/2}); T(499,1331,'ΔWBC',{size:12});
[[468.8,1079.3,'Cohort'],[468.8,1087.3,'mean'],[452.7,1100.7,'50th'],[514.7,1078.3,'50th'],[440,1126,'80th'],[545.3,1090,'80th'],
 [439.3,1153.3,'90th'],[553,1110,'90th'],[452.7,1240,'Cohort'],[452.7,1248.3,'mean'],[436.3,1268.3,'50th'],[436.3,1287.7,'80th'],
 [444,1303.3,'90th'],[480.3,1233.3,'50th'],[509,1229.3,'80th'],[549.2,1232.7,'90th']].forEach(a => T(a[0],a[1],a[2],{size:7,color:'#333'}));
PG([[589,1138],[604,1196],[589,1253]],{fill:new echarts.graphic.LinearGradient(0,0,1,0,[{offset:0,color:'#8f8f8f'},{offset:1,color:'#d9d9d9'}]), z:5});
// risk of death bars
T(928.5,1067,'RISK OF DEATH',{size:16.5,color:'#111'});
T(789,1097,'Day 2 to Day 3',{size:16.5,bold:true,color:'#1d6480'});
T(1070,1097,'Day 4 to Day 5',{size:16.5,bold:true,color:'#4b1a6e'});
T(639,1198,'Mortality (%)',{size:17,rot:Math.PI/2,color:'#111'});
PL([[677,1316],[1188,1316]],{color:'#aaa',lw:2});
T(929,1333,'Direction Percentile',{size:15.5,color:'#111'});
function barPanel(box, yr, vals, errs, color, brackets) {
  const gi = grids.length;
  grids.push({left:box[0], top:box[1], width:box[2], height:box[3], show:true, borderColor:'#555', borderWidth:1, backgroundColor:'#fff', containLabel:false, outerBoundsMode:'none'});
  xAxes.push({type:'category', gridIndex:gi, data:mortCats, axisLine:{show:false}, axisTick:{show:false}, splitLine:{show:false},
    axisLabel:{fontSize:14, fontFamily:FONT, color:'#222', margin:7, interval:0}});
  yAxes.push(vAxis(gi, yr, mortTicks, {fs:14, margin:5}));
  series.push({type:'bar', xAxisIndex:gi, yAxisIndex:gi, data:vals, barWidth:'80%', itemStyle:{color, borderColor:'#222', borderWidth:1}, silent:true, animation:false, z:2});
  series.push({type:'custom', xAxisIndex:gi, yAxisIndex:gi, silent:true, animation:false, z:3, data:vals.map((v,i)=>[i,v,errs[i]]),
    renderItem:(params, api) => {
      const b = api.coord([api.value(0), api.value(1)]), t = api.coord([api.value(0), api.value(2)]);
      return {type:'group', children:[
        {type:'line', shape:{x1:b[0], y1:b[1], x2:t[0], y2:t[1]}, style:{stroke:'#000', lineWidth:3.5}},
        {type:'line', shape:{x1:t[0]-6.5, y1:t[1], x2:t[0]+6.5, y2:t[1]}, style:{stroke:'#000', lineWidth:3.5}}]};
    }});
  brackets.forEach(bk => {
    series.push({type:'custom', xAxisIndex:gi, yAxisIndex:gi, silent:true, animation:false, z:4, data:[[0,0]],
      renderItem:(params, api) => {
        const X = (f, y) => { const i=Math.floor(f); const p=api.coord([i,y]), q=api.coord([i+1,y]); return [p[0]+(q[0]-p[0])*(f-i), p[1]]; };
        const a0=X(bk.x1,bk.bot), a1=X(bk.x1,bk.top), c1=X(bk.x2,bk.top), c0=X(bk.x2,bk.bot);
        return {type:'group', children:[
          {type:'polyline', shape:{points:[a0,a1,c1,c0]}, style:{stroke:'#000', lineWidth:2, fill:'none'}},
          {type:'text', style:{text:bk.text, x:(a1[0]+c1[0])/2, y:a1[1]-(bk.small?6.5:2), font:bk.small?('8.5px '+FONT):('26px '+FONT),
            fill:bk.small?'#555':'#000', align:'center', verticalAlign:'middle', textAlign:'center', textVerticalAlign:'middle'}}]};
      }});
  });
}
barPanel([677,1112,235,171.3],[0,22.05],mort23,err23,'#00918f',
  [{x1:1.29,x2:1.72,top:5.65,bot:4.8,text:'*'},{x1:2.3,x2:2.73,top:11.43,bot:10.58,text:'*'}]);
barPanel([954,1112,235,172],[0,22],mort45,err45,'#4a1060',
  [{x1:1.29,x2:1.72,top:4.28,bot:3.5,text:'p = 0.056',small:true},{x1:2.29,x2:2.72,top:18.6,bot:17.95,text:'*'}]);

// ======================= RENDER =======================
const chart = echarts.init(document.getElementById('chart'), null, {renderer:'canvas', width:1211, height:1349});
chart.setOption({
  animation:false, backgroundColor:'#ffffff', textStyle:{fontFamily:FONT},
  grid:grids, xAxis:xAxes, yAxis:yAxes, series, legend:legends, graphic:{elements:graphics}
});
</script>
</body>
</html>
